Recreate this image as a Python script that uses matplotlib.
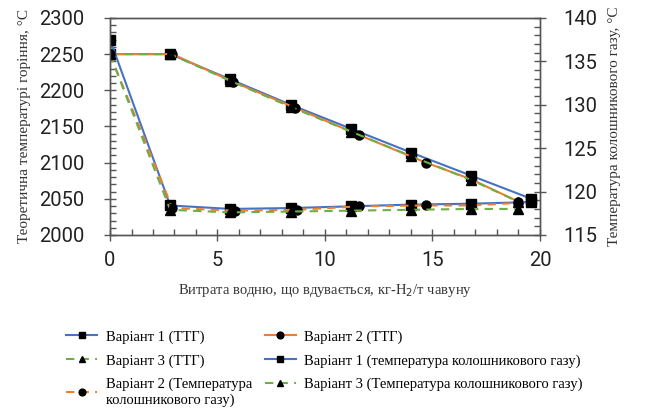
import matplotlib
matplotlib.use("Agg")
import matplotlib.pyplot as plt
from matplotlib.ticker import MultipleLocator

# Кольори серій
BLUE = "#4472C4"
ORANGE = "#ED7D31"
GREEN = "#70AD47"

# ТТГ (ліва вісь), °C
x_v1_ttg = [0, 2.8, 5.6, 8.4, 11.2, 14.0, 16.8, 19.6]
y_v1_ttg = [2250, 2250, 2215, 2180, 2147, 2114, 2082, 2050]
x_v2_ttg = [0, 2.9, 5.7, 8.6, 11.6, 14.7, 16.8, 19.0]
y_v2_ttg = [2250, 2250, 2212, 2176, 2138, 2100, 2077, 2046]
x_v3_ttg = [0, 2.8, 5.6, 8.4, 11.2, 14.0, 16.8, 19.0]
y_v3_ttg = [2250, 2250, 2213, 2177, 2143, 2109, 2076, 2046]

# Температура колошникового газу (права вісь), °C
x_v1_gas = [0, 2.8, 5.6, 8.4, 11.2, 14.0, 16.8, 19.6]
y_v1_gas = [137.5, 118.4, 118.0, 118.1, 118.3, 118.5, 118.6, 118.8]
x_v2_gas = [0, 2.9, 5.8, 8.7, 11.6, 14.7, 16.8, 19.0]
y_v2_gas = [135.8, 118.1, 117.8, 117.9, 118.3, 118.4, 118.4, 118.7]
x_v3_gas = [0, 2.8, 5.6, 8.4, 11.2, 14.0, 16.8, 19.0]
y_v3_gas = [135.8, 117.9, 117.6, 117.7, 117.8, 117.9, 118.0, 118.0]

SERIF = "Liberation Serif"
TICKFONT = "Roboto"

fig = plt.figure(figsize=(6.49, 4.17), dpi=100)
ax = fig.add_axes([0.1695, 0.4365, 0.6625, 0.5205])
ax2 = ax.twinx()

lw = 1.5
ms = 6.5
dash = (0, (4, 3))
h1, = ax.plot(x_v1_ttg, y_v1_ttg, color=BLUE, lw=lw, marker="s", ms=ms, mfc="black", mec="black")
h2, = ax.plot(x_v2_ttg, y_v2_ttg, color=ORANGE, lw=lw, marker="o", ms=ms, mfc="black", mec="black")
h3, = ax.plot(x_v3_ttg, y_v3_ttg, color=GREEN, lw=lw, ls=dash, marker="^", ms=ms, mfc="black", mec="black")
h4, = ax2.plot(x_v1_gas, y_v1_gas, color=BLUE, lw=lw, marker="s", ms=ms, mfc="black", mec="black")
h5, = ax2.plot(x_v2_gas, y_v2_gas, color=ORANGE, lw=lw, ls=dash, marker="o", ms=ms, mfc="black", mec="black")
h6, = ax2.plot(x_v3_gas, y_v3_gas, color=GREEN, lw=lw, ls=dash, marker="^", ms=ms, mfc="black", mec="black")

ax.set_xlim(0, 20)
ax.set_ylim(2000, 2300)
ax2.set_ylim(115, 140)

ax.xaxis.set_major_locator(MultipleLocator(5))
ax.xaxis.set_minor_locator(MultipleLocator(1))
ax.yaxis.set_major_locator(MultipleLocator(50))
ax.yaxis.set_minor_locator(MultipleLocator(10))
ax2.yaxis.set_major_locator(MultipleLocator(5))
ax2.yaxis.set_minor_locator(MultipleLocator(1))

spine_c = "#555555"
for a in (ax, ax2):
    for s in a.spines.values():
        s.set_color(spine_c)
        s.set_linewidth(1.0)

ax.tick_params(axis="x", which="major", direction="inout", length=9, width=1, color=spine_c, pad=7)
ax.tick_params(axis="x", which="minor", direction="in", length=4, width=1, color=spine_c)
ax.tick_params(axis="y", which="major", direction="inout", length=9, width=1, color=spine_c, pad=14)
ax.tick_params(axis="y", which="minor", direction="in", length=4, width=1, color=spine_c)
ax2.tick_params(axis="y", which="major", direction="inout", length=9, width=1, color=spine_c, pad=12)
ax2.tick_params(axis="y", which="minor", direction="in", length=4, width=1, color=spine_c)

for lab in ax.get_xticklabels() + ax.get_yticklabels() + ax2.get_yticklabels():
    lab.set_fontfamily(TICKFONT)
    lab.set_fontsize(14.5)
    lab.set_color("#222222")

ax.set_xlabel("Витрата водню, що вдувається, кг-H$_2$/т чавуну", fontfamily=SERIF, fontsize=10.5,
              color="#333333", labelpad=9)
ax.set_ylabel("Теоретична температурі горіння, °C", fontfamily=SERIF, fontsize=11, color="#333333", labelpad=6)
ax2.set_ylabel("Температура колошникового газу, °C", fontfamily=SERIF, fontsize=11, color="#333333", labelpad=8)

handles = [h1, h3, h5, h2, h4, h6]
labels = ["Варіант 1 (ТТГ)", "Варіант 3 (ТТГ)", "Варіант 2 (Температура\nколошникового газу)",
          "Варіант 2 (ТТГ)", "Варіант 1 (температура колошникового газу)",
          "Варіант 3 (Температура колошникового газу)"]
leg = fig.legend(handles, labels, loc="upper left", bbox_to_anchor=(0.082, 0.24), ncol=2,
                 frameon=False, prop={"family": SERIF, "size": 10.5}, markerscale=0.75,
                 handlelength=2.1, columnspacing=0.9, labelspacing=0.72, handletextpad=0.6)

fig.savefig("out.png", dpi=100)
